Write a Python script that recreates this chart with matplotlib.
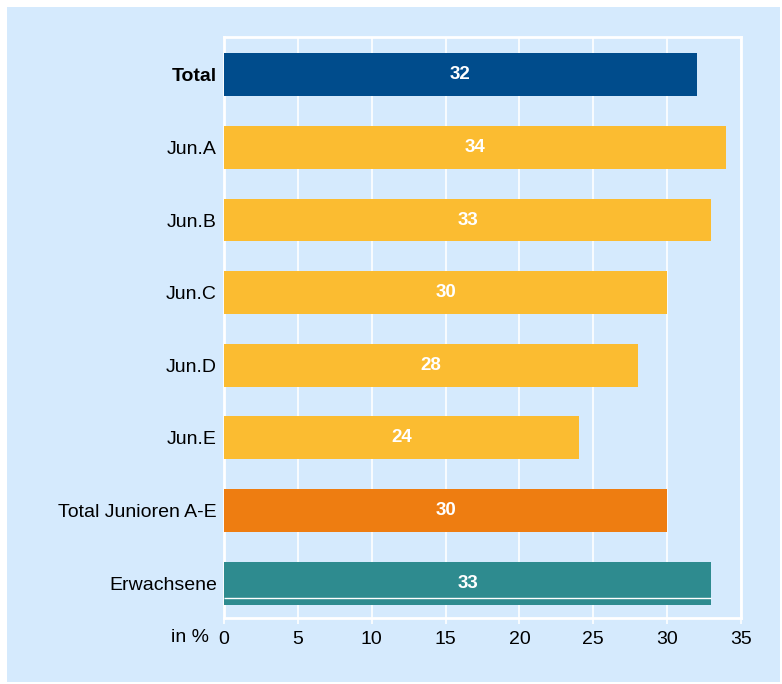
import matplotlib
matplotlib.use("Agg")
import matplotlib.pyplot as plt
from matplotlib.patches import Rectangle

plt.rcParams["font.family"] = ["Liberation Sans", "DejaVu Sans"]

# ---- Data -----------------------------------------------------------------
categories = ["Total", "Jun.A", "Jun.B", "Jun.C", "Jun.D", "Jun.E",
              "Total Junioren A-E", "Erwachsene"]
values = [32, 34, 33, 30, 28, 24, 30, 33]
bar_colors = ["#004c8c", "#fbbc31", "#fbbc31", "#fbbc31", "#fbbc31",
              "#fbbc31", "#ee7d11", "#2e8b8f"]
x_ticks = [0, 5, 10, 15, 20, 25, 30, 35]

BG = "#d5eafd"

fig = plt.figure(figsize=(7.82, 6.84), dpi=100, facecolor="white")
fig.add_artist(Rectangle((7 / 782, 2 / 684), 773 / 782, 675 / 684,
                         transform=fig.transFigure, facecolor=BG,
                         edgecolor="none", zorder=-10))

ax = fig.add_axes([224 / 782, 1 - 618 / 684, 517 / 782, 581 / 684])
ax.set_facecolor(BG)

ypos = list(range(len(categories)))
ax.barh(ypos, values, height=0.59, color=bar_colors, zorder=3)
for y, v in zip(ypos, values):
    ax.text(v / 2, y, f"{v}", ha="center", va="center", color="white",
            fontsize=13.5, fontweight="bold", zorder=4)

# thin white rule inside the last bar, as in the source graphic
ax.hlines(ypos[-1] + 0.2, 0, values[-1], color="white", linewidth=1, zorder=4)

ax.set_xlim(0, 35)
ax.set_ylim(len(categories) - 0.52, -0.52)
ax.set_xticks(x_ticks)
ax.set_xticklabels([str(t) for t in x_ticks], fontsize=14)
ax.set_yticks(ypos)
ax.set_yticklabels(categories, fontsize=14)
ax.get_yticklabels()[0].set_fontweight("bold")

ax.grid(axis="x", color="white", linewidth=1.2, zorder=1)
ax.grid(axis="y", visible=False)
ax.set_axisbelow(True)
for side in ["top", "bottom", "left", "right"]:
    ax.spines[side].set_color("white")
    ax.spines[side].set_linewidth(2)
ax.tick_params(axis="x", length=4, color="white", width=1.2, pad=5)
ax.tick_params(axis="y", length=0, pad=5)

fig.text(190 / 782, 1 - 638 / 684, "in %", ha="center", va="center",
         fontsize=14)

fig.savefig("out.png", dpi=100, facecolor="white")
